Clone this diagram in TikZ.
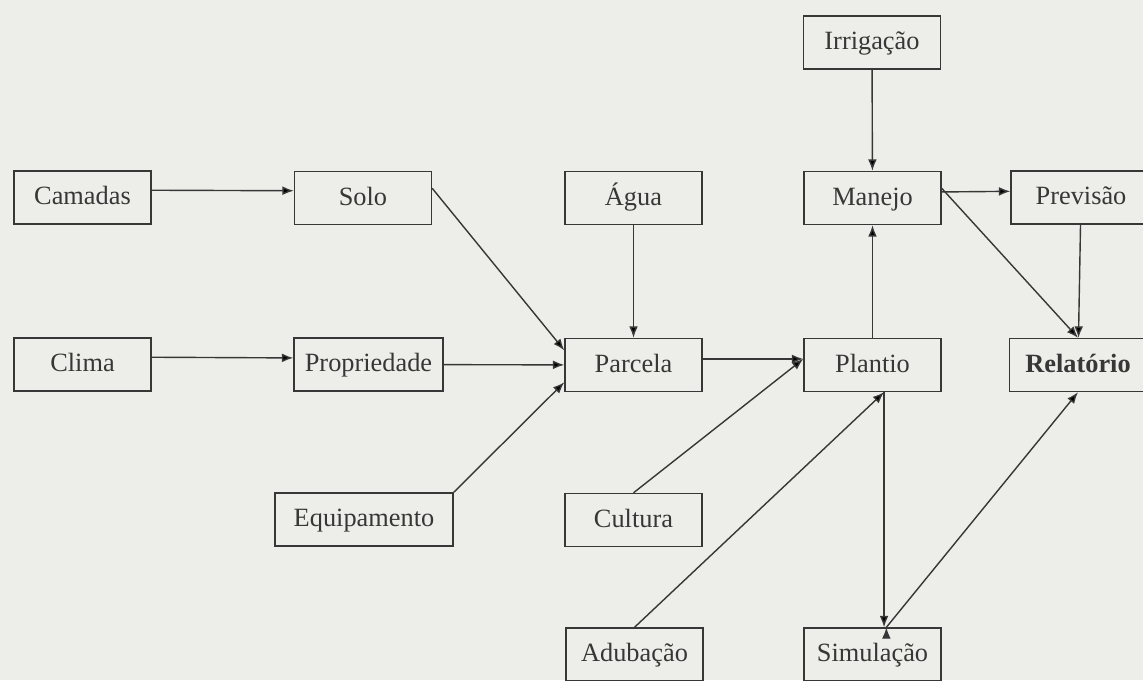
\documentclass[tikz,border=0pt]{standalone}
\usepackage{fontspec}
\setmainfont{Liberation Serif}
\usepackage{tikz}
\usetikzlibrary{arrows.meta,positioning}
\definecolor{papel}{RGB}{237,237,233}
\definecolor{tinta}{RGB}{55,55,55}
\tikzset{
  caixa/.style={draw=tinta,line width=0.8pt,text=tinta,inner sep=0pt,
    text height=8pt,text depth=0pt,
    minimum width=2.74cm,minimum height=1.06cm},
}

\begin{document}
\begin{tikzpicture}[x=0.02cm,y=-0.02cm,font=\fontsize{15}{18}\selectfont]
\fill[papel] (0,0) rectangle (1143,680);
\useasboundingbox (0,0) rectangle (1143,680);
\node[caixa] (Irr) at (872,42.5) {Irrigação};
\node[caixa] (Cam) at (82.5,197.5) {Camadas};
\node[caixa] (Solo) at (363,198) {Solo};
\node[caixa] (Agua) at (633.5,198) {Água};
\node[caixa] (Man) at (872.5,198) {Manejo};
\node[caixa,minimum width=2.8cm] (Prev) at (1081,197.5) {Previsão};
\node[caixa] (Clima) at (82.5,364.5) {Clima};
\node[caixa,minimum width=2.98cm] (Prop) at (368.5,364.5) {Propriedade};
\node[caixa] (Parc) at (633.5,365) {Parcela};
\node[caixa] (Plant) at (872.5,365) {Plantio};
\node[caixa,font=\fontsize{15}{18}\selectfont\bfseries] (Rel) at (1078,365) {Relatório};
\node[caixa,minimum width=3.56cm] (Equip) at (364,519.5) {Equipamento};
\node[caixa] (Cult) at (633.5,520) {Cultura};
\node[caixa] (Adub) at (634.5,654.5) {Adubação};
\node[caixa] (Sim) at (872.5,654.5) {Simulação};
\path[->,draw=tinta,line width=0.8pt,>={Latex[length=6.5pt,width=5pt]}]
(Cam.6) edge (Solo.174)
(Clima.6) edge (Prop.175)
(Solo.8) edge (Parc.168)
(Prop) edge (Parc)
(Equip.north east) edge (Parc.194)
(Agua) edge (Parc)
(Parc.5) edge (Plant.175)
(Cult.north) edge (Plant.175)
(Adub.north) edge (Plant.293)
(Plant) edge (Man)
(Irr) edge (Man)
(Man.5) edge (Prev.175)
(Man.8) edge (Rel.north)
(Prev) edge (Rel)
(Plant.293) edge (Sim.67)
(Sim.63) edge (Rel.south);
\end{tikzpicture}
\end{document}
